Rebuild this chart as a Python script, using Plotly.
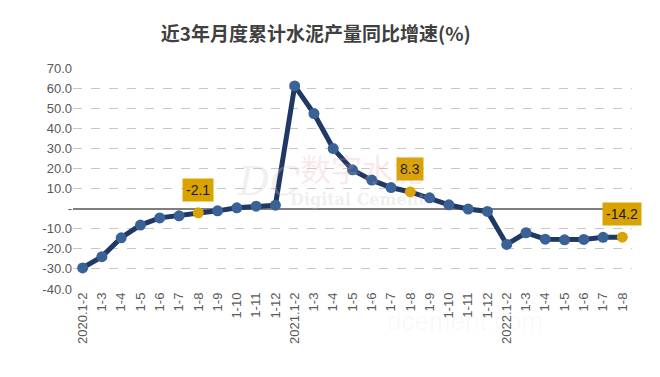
import plotly.graph_objects as go

x_labels = ["2020.1-2", "1-3", "1-4", "1-5", "1-6", "1-7", "1-8", "1-9", "1-10", "1-11", "1-12",
            "2021.1-2", "1-3", "1-4", "1-5", "1-6", "1-7", "1-8", "1-9", "1-10", "1-11", "1-12",
            "2022.1-2", "1-3", "1-4", "1-5", "1-6", "1-7", "1-8"]
values = [-29.5, -23.9, -14.5, -8.2, -4.6, -3.6, -2.1, -1.1, 0.4, 1.2, 1.7,
          61.1, 47.3, 29.9, 19.3, 14.2, 10.5, 8.3, 5.4, 1.9, -0.2, -1.4,
          -17.8, -12.0, -15.2, -15.5, -15.3, -14.3, -14.2]
highlight_idx = [6, 17, 28]
y_tickvals = [70, 60, 50, 40, 30, 20, 10, 0, -10, -20, -30, -40]
y_ticktext = ["70.0", "60.0", "50.0", "40.0", "30.0", "20.0", "10.0", "-", "-10.0", "-20.0", "-30.0", "-40.0"]
title = "近3年月度累计水泥产量同比增速(%)"

xs = list(range(len(values)))
gold = "#D9A300"
marker_colors = [gold if i in highlight_idx else "#3A6296" for i in xs]

fig = go.Figure()
fig.add_trace(go.Scatter(
    x=xs, y=values, mode="lines+markers",
    line=dict(color="#1F3864", width=5),
    marker=dict(color=marker_colors, size=11, line=dict(width=0)),
    hoverinfo="skip", showlegend=False,
))

for i in highlight_idx:
    fig.add_annotation(
        x=xs[i], y=values[i], text=f"{values[i]:.1f}", showarrow=False,
        yshift=23, bgcolor=gold, borderpad=3,
        font=dict(family="Liberation Sans, Arial", size=14, color="#1a1a1a"),
    )

# faint watermark
fig.add_annotation(xref="paper", yref="paper", x=0.351, y=0.49, text="<i>DC</i>", showarrow=False,
                   font=dict(family="DejaVu Serif", size=40, color="rgba(210,200,200,0.30)"))
fig.add_annotation(xref="paper", yref="paper", x=0.517, y=0.548, text="数字水泥", showarrow=False,
                   font=dict(family="Noto Sans CJK SC", size=31, color="rgba(235,150,160,0.22)"))
fig.add_annotation(xref="paper", yref="paper", x=0.51, y=0.403, text="<b>Digital Cement</b>", showarrow=False,
                   font=dict(family="DejaVu Serif", size=16, color="rgba(200,200,200,0.30)"))
fig.add_annotation(xref="paper", yref="paper", x=0.844, y=-0.22, text="dcement.com", showarrow=False,
                   font=dict(family="Liberation Sans", size=26, color="rgba(0,0,0,0.03)"))

fig.update_layout(
    width=652, height=369,
    margin=dict(l=65, r=28, t=60, b=88),
    paper_bgcolor="white", plot_bgcolor="white",
    title=dict(text=f"<b>{title}</b>", x=0.472, xanchor="center", y=0.9295, yanchor="middle",
               font=dict(family="Noto Sans CJK SC", size=19, color="#404040")),
    xaxis=dict(
        range=[-0.5, len(values) - 0.5], tickmode="array", tickvals=xs, ticktext=x_labels,
        tickangle=-90, showgrid=False, zeroline=False, showline=False, ticks="",
        tickfont=dict(family="Liberation Sans, Arial", size=13, color="#595959"),
    ),
    yaxis=dict(
        range=[-40, 70], tickmode="array", tickvals=y_tickvals, ticktext=y_ticktext,
        showgrid=True, gridcolor="#C8C8C8", griddash="dash", gridwidth=1,
        zeroline=True, zerolinecolor="#7F7F7F", zerolinewidth=2,
        showline=False, ticks="",
        tickfont=dict(family="Liberation Sans, Arial", size=13, color="#595959"),
    ),
)

fig.write_html("out.html")
